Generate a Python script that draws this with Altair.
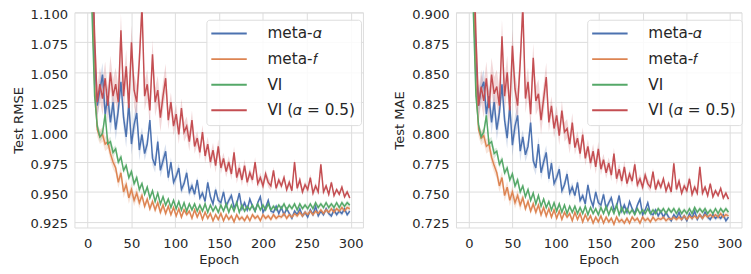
import altair as alt
import pandas as pd

# ---------------- data (values in thousandths, epochs 2, 5, 8, ... 299) ----------------
SERIES = ["meta-𝛼", "meta-𝑓", "VI", "VI (𝛼 = 0.5)"]
COLORS = ["#4C72B0", "#DD8452", "#55A868", "#C44E52"]
EPOCH_START = 2
EPOCH_STEP = 3
X_TICKS = [0, 50, 100, 150, 200, 250, 300]
RMSE_TICKS = [0.925, 0.95, 0.975, 1.0, 1.025, 1.05, 1.075, 1.1]
MAE_TICKS = [0.725, 0.75, 0.775, 0.8, 0.825, 0.85, 0.875, 0.9]

rmse_meta_alpha = [
    1300, 1150, 1060, 1022, 1035, 1048, 1015, 1030, 1008, 1025,
    1002, 1018, 1042, 1012, 996, 1024, 990, 1006, 1016, 985,
    998, 982, 990, 1010, 978, 972, 992, 968, 976, 984,
    962, 975, 958, 963, 970, 952, 957, 966, 950, 955,
    948, 960, 945, 949, 942, 958, 946, 940, 952, 943,
    941, 950, 938, 943, 947, 937, 940, 949, 936, 941,
    935, 944, 938, 934, 941, 946, 933, 937, 943, 934,
    933, 938, 932, 937, 931, 936, 932, 928, 934, 931,
    936, 930, 933, 929, 935, 931, 938, 930, 934, 931,
    936, 932, 930, 935, 931, 934, 932, 936, 931, 934,
]
rmse_meta_f = [
    1250, 1120, 1040, 1002, 996, 998, 990, 992, 982, 975,
    970, 958, 966, 950, 956, 945, 952, 943, 949, 941,
    947, 938, 944, 936, 942, 935, 941, 933, 939, 932,
    938, 931, 937, 930, 936, 929, 935, 931, 934, 928,
    935, 929, 934, 927, 933, 928, 932, 926, 931, 927,
    932, 926, 931, 927, 930, 925, 931, 927, 929, 926,
    930, 926, 931, 928, 930, 926, 931, 928, 930, 927,
    931, 928, 930, 929, 932, 928, 931, 929, 932, 930,
    933, 930, 933, 931, 934, 931, 934, 932, 935, 932,
    935, 933, 936, 933, 936, 934, 937, 934, 937, 936,
]
rmse_vi = [
    1200, 1100, 1030, 1005, 996, 999, 1015, 990, 992, 983,
    986, 975, 979, 968, 972, 962, 967, 957, 962, 952,
    957, 948, 954, 945, 951, 942, 949, 940, 946, 939,
    944, 937, 943, 936, 942, 935, 941, 934, 940, 935,
    940, 934, 939, 934, 940, 933, 939, 934, 938, 933,
    939, 934, 940, 933, 939, 934, 941, 933, 939, 934,
    938, 935, 939, 934, 940, 935, 939, 935, 940, 935,
    938, 935, 939, 936, 940, 935, 939, 936, 940, 935,
    940, 936, 939, 936, 940, 936, 941, 937, 940, 937,
    941, 937, 940, 937, 941, 937, 941, 938, 941, 939,
]
rmse_vi_half = [
    1250, 1160, 1080, 1025, 1040, 1028, 1045, 1022, 1050, 1030,
    1040, 1025, 1085, 1030, 1055, 1020, 1075, 1035, 1025, 1060,
    1105, 1030, 1040, 1018, 1065, 1025, 1035, 1012, 1030, 1045,
    1010, 1025, 1005, 1015, 998, 1020, 1000, 1005, 992, 1010,
    988, 995, 983, 1000, 980, 990, 975, 985, 972, 988,
    970, 978, 967, 975, 965, 983, 962, 970, 960, 972,
    958, 966, 960, 975, 957, 962, 955, 965, 958, 955,
    968, 953, 960, 955, 962, 952, 958, 951, 975, 953,
    960, 950, 956, 952, 962, 949, 955, 950, 973, 950,
    955, 948, 958, 947, 952, 948, 954, 946, 950, 945,
]

mae_meta_alpha = [
    1100, 950, 860, 822, 836, 842, 815, 830, 808, 825,
    802, 816, 840, 810, 795, 822, 789, 805, 814, 784,
    796, 781, 788, 808, 776, 770, 790, 766, 775, 783,
    761, 774, 757, 762, 769, 751, 756, 765, 749, 754,
    747, 758, 743, 747, 740, 756, 744, 738, 750, 741,
    739, 748, 736, 741, 745, 735, 738, 747, 734, 739,
    733, 742, 736, 732, 739, 744, 731, 735, 741, 732,
    731, 735, 730, 734, 729, 733, 729, 726, 731, 728,
    733, 727, 730, 726, 732, 728, 734, 727, 731, 728,
    733, 729, 727, 731, 728, 730, 728, 731, 726, 729,
]
mae_meta_f = [
    1050, 920, 840, 802, 795, 797, 788, 790, 779, 772,
    766, 755, 762, 747, 754, 743, 750, 741, 747, 739,
    745, 736, 742, 734, 740, 733, 739, 731, 737, 730,
    736, 729, 735, 728, 734, 727, 733, 729, 732, 726,
    733, 727, 732, 725, 731, 726, 730, 724, 729, 725,
    730, 724, 729, 725, 728, 723, 729, 725, 727, 724,
    728, 724, 729, 726, 728, 724, 729, 726, 728, 725,
    729, 726, 728, 727, 729, 726, 728, 727, 729, 727,
    729, 727, 730, 727, 730, 728, 730, 728, 731, 728,
    731, 729, 731, 729, 731, 729, 732, 729, 731, 730,
]
mae_vi = [
    1000, 900, 830, 806, 796, 800, 814, 790, 792, 782,
    784, 773, 777, 766, 770, 760, 765, 755, 760, 750,
    755, 746, 752, 743, 749, 740, 747, 738, 744, 737,
    742, 735, 741, 734, 740, 733, 739, 732, 738, 733,
    738, 732, 737, 732, 738, 731, 737, 732, 736, 731,
    737, 732, 738, 731, 737, 732, 739, 731, 737, 732,
    736, 732, 735, 731, 736, 732, 735, 732, 736, 732,
    735, 732, 736, 733, 736, 732, 736, 733, 736, 732,
    736, 732, 735, 732, 736, 732, 737, 733, 736, 733,
    736, 732, 735, 732, 736, 732, 736, 733, 736, 733,
]
mae_vi_half = [
    1060, 960, 880, 822, 838, 826, 845, 820, 848, 832,
    838, 822, 880, 830, 850, 818, 872, 836, 822, 858,
    905, 828, 842, 815, 862, 826, 832, 810, 828, 846,
    808, 822, 803, 814, 797, 818, 800, 803, 790, 808,
    787, 795, 782, 798, 778, 788, 774, 784, 771, 786,
    769, 777, 766, 774, 764, 782, 761, 769, 759, 771,
    757, 765, 759, 773, 756, 761, 754, 764, 757, 754,
    767, 752, 759, 754, 761, 751, 757, 750, 774, 752,
    759, 749, 755, 751, 761, 748, 754, 749, 771, 749,
    754, 747, 757, 746, 751, 747, 753, 745, 749, 744,
]

# shaded-band half widths (thousandths), one value per block of 10 points (30 epochs)
band_meta_alpha = [10, 9, 6, 4, 3, 3, 2, 2, 2, 2]
band_meta_f = [6, 5, 3, 2, 2, 2, 2, 2, 2, 2]
band_vi = [4, 3, 2, 2, 2, 2, 2, 2, 2, 2]
band_vi_half = [14, 14, 12, 8, 6, 5, 4, 3, 3, 2]


def build(series_vals, bands):
    rows = []
    for k, (name, vals, band) in enumerate(zip(SERIES, series_vals, bands)):
        for i, v in enumerate(vals):
            b = band[min(i // 10, len(band) - 1)]
            rows.append({
                "epoch": EPOCH_START + EPOCH_STEP * i,
                "series": name,
                "order": k,
                "value": v / 1000.0,
                "lo": (v - b) / 1000.0,
                "hi": (v + b) / 1000.0,
            })
    return pd.DataFrame(rows)


BANDS = [band_meta_alpha, band_meta_f, band_vi, band_vi_half]
df_rmse = build([rmse_meta_alpha, rmse_meta_f, rmse_vi, rmse_vi_half], BANDS)
df_mae = build([mae_meta_alpha, mae_meta_f, mae_vi, mae_vi_half], BANDS)

FONT = "DejaVu Sans"
TXT = "#262626"


def panel(df, ytitle, ydomain, yticks, width, lx):
    xenc = alt.X(
        "epoch:Q",
        scale=alt.Scale(domain=[-15, 314], nice=False, zero=False),
        axis=alt.Axis(values=X_TICKS, title="Epoch", format="d", labelOverlap=False),
    )
    yscale = alt.Scale(domain=ydomain, nice=False, zero=False)
    yaxis = alt.Axis(values=yticks, title=ytitle, format=".3f",
                     labelOverlap=False, labelBound=False)
    legend = alt.Legend(
        orient="none", legendX=lx, legendY=7.5, title=None,
        symbolType="M-3,0H3", symbolSize=144, symbolStrokeWidth=2, symbolOpacity=1,
        labelFontSize=15.5, labelFont=FONT, labelColor=TXT, labelLimit=400,
        rowPadding=9, padding=6.25, symbolOffset=9, labelOffset=31.25,
        fillColor="rgba(255,255,255,0.85)", strokeColor="#dcdcdc", cornerRadius=3,
    )
    color = alt.Color("series:N", scale=alt.Scale(domain=SERIES, range=COLORS),
                      legend=legend, sort=SERIES)
    band = alt.Chart(df).mark_area(opacity=0.22, clip=True).encode(
        x=xenc,
        y=alt.Y("lo:Q", scale=yscale, stack=None, axis=yaxis),
        y2="hi:Q",
        color=color,
        order="order:Q",
    )
    line = alt.Chart(df).mark_line(strokeWidth=1.5, clip=True).encode(
        x=xenc,
        y=alt.Y("value:Q", scale=yscale, axis=yaxis),
        color=color,
        order=alt.Order("epoch:Q"),
        detail="order:Q",
    )
    return alt.layer(band, line).properties(width=width, height=218.5)


left = panel(df_rmse, "Test RMSE", [0.9203, 1.1], RMSE_TICKS, 293, 134)
right = panel(df_mae, "Test MAE", [0.7203, 0.9], MAE_TICKS, 290, 133.3)

chart = (
    alt.hconcat(left, right, spacing=28.5)
    .resolve_scale(color="independent")
    .resolve_legend(color="independent")
    .properties(padding={"left": 2.5, "top": -3.6, "right": 0, "bottom": 0})
    .configure(background="white")
    .configure_view(stroke="#dcdcdc", strokeWidth=1)
    .configure_axis(
        domain=False, ticks=False, tickSize=0, labelOverlap=False,
        grid=True, gridColor="#dcdcdc", gridWidth=1,
        labelFont=FONT, labelFontSize=13.3, labelColor=TXT, labelPadding=7,
        titleFont=FONT, titleFontSize=13.3, titleColor=TXT, titleFontWeight="normal",
    )
    .configure_axisX(labelPadding=9.5, titlePadding=3)
    .configure_axisY(titlePadding=5, labelOffset=2.2)
)

chart.save("out.html", embed_options={"renderer": "svg", "actions": False})
